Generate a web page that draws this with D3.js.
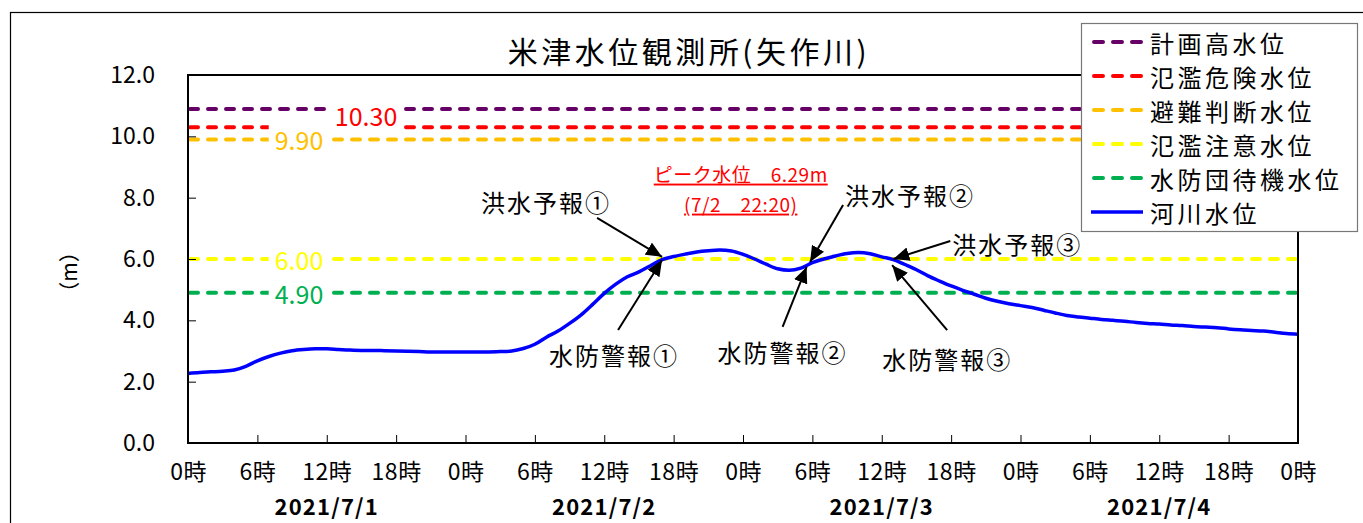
<!DOCTYPE html>
<html><head><meta charset="utf-8">
<script src="https://cdn.jsdelivr.net/npm/d3@7"></script>
<style>
html,body{margin:0;padding:0;background:#fff;}
svg{display:block;font-family:"Noto Sans CJK JP","Noto Sans",sans-serif;}
</style></head>
<body><svg id="chart" width="1363" height="523"></svg>
<script>
// ---- data ----
const title = "米津水位観測所(矢作川)";
const yLabel = "（m）";
const hours = d3.range(0, 97); // hourly, 2021/7/1 0時 -> 2021/7/5 0時
const waterLevel = [
  2.27,2.30,2.32,2.34,2.38,2.50,2.68,2.82,2.93,3.01,3.05,3.07,
  3.07,3.05,3.03,3.02,3.02,3.01,3.00,2.99,2.98,2.97,2.97,2.97,
  2.97,2.97,2.97,2.98,3.00,3.08,3.22,3.45,3.65,3.90,4.18,4.52,
  4.88,5.18,5.42,5.58,5.78,5.98,6.08,6.16,6.23,6.27,6.29,6.26,
  6.15,6.00,5.83,5.68,5.63,5.70,5.88,6.00,6.10,6.18,6.21,6.17,
  6.07,5.98,5.82,5.65,5.45,5.28,5.12,4.98,4.85,4.72,4.62,4.54,
  4.48,4.42,4.33,4.24,4.16,4.11,4.07,4.03,4.00,3.97,3.93,3.90,
  3.88,3.85,3.83,3.80,3.78,3.76,3.72,3.69,3.67,3.65,3.61,3.57,
  3.55
];
const thresholdNames  = ["計画高水位","氾濫危険水位","避難判断水位","氾濫注意水位","水防団待機水位"];
const thresholdValues = [10.89, 10.30, 9.90, 6.00, 4.90];
const thresholdLabels = [null, "10.30", "9.90", "6.00", "4.90"];
const seriesName = "河川水位";
const yTicks = [0, 2, 4, 6, 8, 10, 12];
const xTickHours = d3.range(0, 97, 6);
const xTickLabels = ["0時","6時","12時","18時","0時","6時","12時","18時","0時","6時","12時","18時","0時","6時","12時","18時","0時"];
const dateLabels = ["2021/7/1","2021/7/2","2021/7/3","2021/7/4"];
const dateHours = [12, 36, 60, 84];
const peakHour = 46 + 20/60, peakValue = 6.29;
const peakText1 = "ピーク水位　6.29m", peakText2 = "(7/2　22:20)";
const annotations = [
  {text:"洪水予報①", hour:41.0, value:6.07},
  {text:"水防警報①", hour:41.0, value:5.97},
  {text:"洪水予報②", hour:53.8, value:5.90},
  {text:"水防警報②", hour:53.5, value:5.74},
  {text:"洪水予報③", hour:61.0, value:6.00},
  {text:"水防警報③", hour:60.9, value:5.80}
];

// ---- styles / layout ----
const thresholdColors = ["#660066","#FF0000","#FFC000","#FFFF00","#00B050"];
const lineColor = "#0000FF";
// label offsets (pixels) relative to arrow tip: [textDx,textDy,tailDx,tailDy]
const annOffsets = [
  [-116,-55,-65,-39],
  [-48,95,-44,70],
  [100,-68,33,-57],
  [-24,85,-24,60],
  [124,-16,57,-18],
  [55,93,55,65]
];
const M = {left:188, right:1298, top:75, bottom:443};

const svg = d3.select("#chart");
svg.append("rect").attr("width",1363).attr("height",523).attr("fill","#fff");
// outer frame
svg.append("rect").attr("x",10.5).attr("y",12.5).attr("width",1400).attr("height",600)
  .attr("fill","none").attr("stroke","#000").attr("stroke-width",1.2);

const x = d3.scaleLinear().domain([0,96]).range([M.left, M.right]);
const y = d3.scaleLinear().domain([0,12]).range([M.bottom, M.top]);

// title
svg.append("text").attr("x",689).attr("y",50).attr("text-anchor","middle")
  .attr("dominant-baseline","central").attr("font-size",30).attr("letter-spacing",3.5)
  .attr("fill","#000").text(title);

// y label
svg.append("text").attr("transform","translate(68,272) rotate(-90)")
  .attr("text-anchor","middle").attr("dominant-baseline","central")
  .attr("font-size",21).text(yLabel);

// threshold lines
const thrG = svg.append("g");
thresholdValues.forEach((v,i)=>{
  thrG.append("line").attr("x1",x(0)+2).attr("x2",x(96)).attr("y1",y(v)).attr("y2",y(v))
    .attr("stroke",thresholdColors[i]).attr("stroke-width",4)
    .attr("stroke-dasharray","8,10").attr("stroke-linecap","round");
});

// threshold labels with white background
const labelPos = [null, {h:15.4, dv:0.38}, {h:9.6, dv:0}, {h:9.6, dv:0}, {h:9.6, dv:0}];
thresholdValues.forEach((v,i)=>{
  if(!thresholdLabels[i]) return;
  const g = thrG.append("g");
  const t = g.append("text").attr("x",x(labelPos[i].h)).attr("y",y(v+labelPos[i].dv))
    .attr("text-anchor","middle").attr("dominant-baseline","central")
    .attr("font-size",25).attr("fill",thresholdColors[i]).text(thresholdLabels[i]);
  const bb = t.node().getBBox();
  g.insert("rect","text").attr("x",bb.x-6).attr("y",bb.y+1).attr("width",bb.width+12).attr("height",bb.height-2)
    .attr("fill","#fff");
});

// water level line
const line = d3.line().x((d,i)=>x(hours[i])).y(d=>y(d)).curve(d3.curveMonotoneX);
svg.append("path").datum(waterLevel).attr("d",line).attr("fill","none")
  .attr("stroke",lineColor).attr("stroke-width",3.5).attr("stroke-linejoin","round");

// plot frame
svg.append("rect").attr("x",M.left).attr("y",M.top).attr("width",M.right-M.left).attr("height",M.bottom-M.top)
  .attr("fill","none").attr("stroke","#000").attr("stroke-width",2);

// axes
const yAxis = d3.axisLeft(y).tickValues(yTicks).tickSize(-8).tickPadding(33).tickFormat(d3.format(".1f"));
const gy = svg.append("g").attr("transform",`translate(${M.left},0)`).call(yAxis);
gy.select(".domain").remove();
gy.selectAll(".tick line").attr("stroke","#000").attr("stroke-width",1);
gy.selectAll(".tick text").attr("font-size",23).attr("font-family","Noto Sans CJK JP").attr("fill","#000");

const xAxis = d3.axisBottom(x).tickValues(xTickHours).tickSize(-8).tickPadding(21)
  .tickFormat((d,i)=>xTickLabels[i]);
const gx = svg.append("g").attr("transform",`translate(0,${M.bottom})`).call(xAxis);
gx.select(".domain").remove();
gx.selectAll(".tick line").attr("stroke","#000").attr("stroke-width",1);
gx.selectAll(".tick text").attr("font-size",23).attr("letter-spacing",0.5).attr("font-family","Noto Sans CJK JP").attr("fill","#000");

svg.append("g").selectAll("text").data(dateLabels).join("text")
  .attr("x",(d,i)=>x(dateHours[i])).attr("y",505).attr("text-anchor","middle")
  .attr("dominant-baseline","central").attr("font-size",22).attr("letter-spacing",1.2).attr("font-weight","bold")
  .attr("fill","#000").text(d=>d);

// peak annotation
const px = x(peakHour), py = y(peakValue);
[[peakText1,-77],[peakText2,-47]].forEach(([s,dy])=>{
  svg.append("text").attr("x",px+17).attr("y",py+dy).attr("text-anchor","middle")
    .attr("dominant-baseline","central").attr("font-size",19).attr("letter-spacing",0.5).attr("fill","#FF0000")
    .attr("text-decoration","underline").text(s);
});

// arrows
const defs = svg.append("defs");
defs.append("marker").attr("id","ah").attr("viewBox","0 0 16 14").attr("refX",16).attr("refY",7)
  .attr("markerWidth",16).attr("markerHeight",14).attr("markerUnits","userSpaceOnUse")
  .attr("orient","auto").append("path").attr("d","M0,0 L16,7 L0,14 Z").attr("fill","#000");
const annG = svg.append("g");
annotations.forEach((a,i)=>{
  const tx = x(a.hour), ty = y(a.value);
  const o = annOffsets[i];
  annG.append("line").attr("x1",tx+o[2]).attr("y1",ty+o[3]).attr("x2",tx).attr("y2",ty)
    .attr("stroke","#000").attr("stroke-width",2).attr("marker-end","url(#ah)");
  annG.append("text").attr("x",tx+o[0]).attr("y",ty+o[1]).attr("text-anchor","middle")
    .attr("dominant-baseline","central").attr("font-size",24).attr("letter-spacing",2)
    .attr("fill","#000").text(a.text);
});

// legend
const lg = svg.append("g");
lg.append("rect").attr("x",1081.5).attr("y",23.5).attr("width",276).attr("height",208)
  .attr("fill","#fff").attr("stroke","#777").attr("stroke-width",1.2);
const legendItems = thresholdNames.map((n,i)=>({name:n,color:thresholdColors[i],dash:true}))
  .concat([{name:seriesName,color:lineColor,dash:false}]);
legendItems.forEach((d,i)=>{
  const yy = 42 + i*34;
  lg.append("line").attr("x1",d.dash?1094:1091).attr("x2",d.dash?1141:1143).attr("y1",yy).attr("y2",yy)
    .attr("stroke",d.color).attr("stroke-width",d.dash?4:3.5)
    .attr("stroke-dasharray",d.dash?"9,10":null).attr("stroke-linecap",d.dash?"round":"butt");
  lg.append("text").attr("x",1150).attr("y",yy).attr("dominant-baseline","central")
    .attr("font-size",24).attr("letter-spacing",3.5).attr("fill","#000").text(d.name);
});
</script></body></html>
